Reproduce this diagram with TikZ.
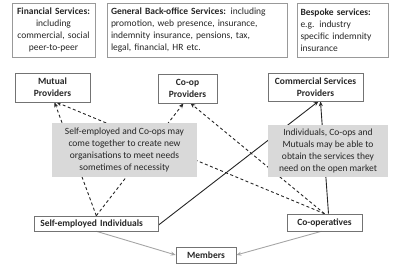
\documentclass[tikz,border=0pt]{standalone}
\usepackage{fontspec}
\setmainfont{Carlito}
\usetikzlibrary{arrows.meta,backgrounds}
\begin{document}
\begin{tikzpicture}[x=1pt,y=-1pt,
  every node/.style={font=\fontsize{9.5}{12}\selectfont, text=black!85},
  topbox/.style={draw=black!40, line width=0.6pt, inner sep=0pt, minimum height=54pt},
  provbox/.style={draw=black!55, line width=0.6pt, inner sep=0pt, align=center, font=\fontsize{9.5}{12}\selectfont\bfseries},
  notebox/.style={fill=black!15, inner sep=0pt, align=center, font=\fontsize{9.5}{12}\selectfont},
  dline/.style={dashed, line width=0.9pt, black!85, dash pattern=on 3pt off 2.5pt, -{Stealth[length=5pt,width=4pt]}},
  sline/.style={line width=0.9pt, black!85, -{Stealth[length=5pt,width=4pt]}},
  gline/.style={line width=0.9pt, black!35, -{Stealth[length=5pt,width=4pt]}}]
\useasboundingbox (0,0) rectangle (400,267);
\node[topbox, minimum width=83pt, text width=80pt, align=center] (fin) at (53.5,30)
  {\textbf{Financial Services:}\\including\\commercial, social\\peer-to-peer};
\node[topbox, minimum width=180pt, text width=172pt, align=left] (gen) at (197,30)
  {\textbf{General Back-office Services:} including\\promotion, web presence, insurance,\\indemnity insurance, pensions, tax,\\legal, financial, HR etc.};
\node[topbox, minimum width=91pt, text width=84pt, align=left] (besp) at (342.5,30)
  {\textbf{Bespoke services:}\\e.g. industry\\specific indemnity\\insurance};
\node[provbox, minimum width=75pt, minimum height=29pt] (mut) at (52.5,87.5) {Mutual\\Providers};
\node[provbox, minimum width=59pt, minimum height=29pt] (coopp) at (187.5,88.5) {Co-op\\Providers};
\node[provbox, minimum width=95pt, minimum height=28pt] (comm) at (315.5,87) {Commercial Services\\Providers};
\node[notebox, minimum width=145pt, minimum height=54pt] (note1) at (124.5,150)
  {Self-employed and Co-ops may\\come together to create new\\organisations to meet needs\\sometimes of necessity};
\node[notebox, minimum width=120pt, minimum height=52pt] (note2) at (328,151)
  {Individuals, Co-ops and\\Mutuals may be able to\\obtain the services they\\need on the open market};
\node[provbox, minimum width=124pt, minimum height=15pt, anchor=west, text width=118pt, align=left] (self) at (34,223.5) {\hspace*{3pt}Self-employed Individuals};
\node[provbox, minimum width=75pt, minimum height=17pt] (coops) at (324.5,222.5) {Co-operatives};
\node[provbox, minimum width=60pt, minimum height=16pt] (memb) at (206,255) {Members};
\begin{scope}[on background layer]
  \draw[dline] (self.north) -- ([xshift=2pt]mut.south);
  \draw[dline] (self.north) -- ([xshift=-4pt]coopp.south);
  \draw[dline] (coops.north) -- ([xshift=4pt]mut.south);
  \draw[dline] (coops.north) -- ([xshift=3pt]coopp.south);
  \draw[sline] ([yshift=-1.5pt]self.east) -- ([xshift=3pt]comm.south);
  \draw[sline] ([xshift=4pt]coops.north) -- ([xshift=5pt]comm.south);
  \draw[gline] (self.south) -- (memb.west);
  \draw[gline] ([xshift=-3pt]coops.south) -- (memb.east);
\end{scope}
\end{tikzpicture}
\end{document}
